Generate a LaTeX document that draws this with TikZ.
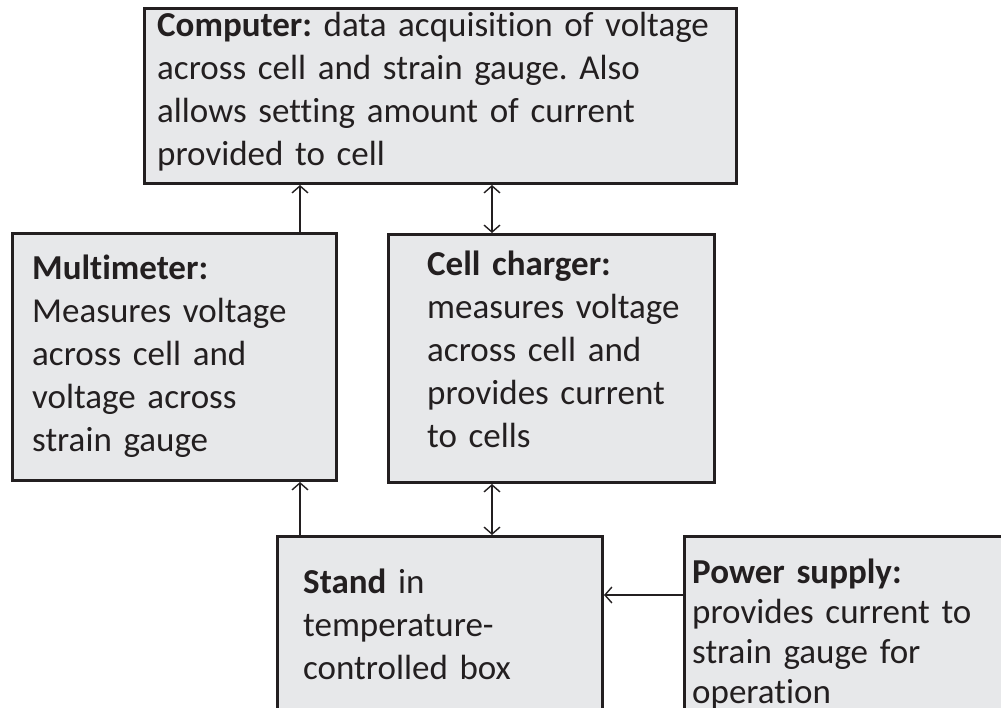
\documentclass[tikz,border=0pt]{standalone}
\usepackage{fontspec}
\setmainfont{Carlito}[Ligatures=CommonOff]
\frenchspacing
\usetikzlibrary{arrows.meta}
\definecolor{boxfill}{RGB}{231,232,234}
\definecolor{ink}{RGB}{35,31,32}
\tikzset{
  box/.style={draw=ink, line width=3pt, fill=boxfill, rectangle, inner sep=0pt, anchor=north west},
  txt/.style={anchor=base west, inner sep=0pt, text width=#1, align=left, text=ink,
    font=\fontsize{35}{43}\selectfont},
  arr/.style={draw=ink, line width=1.4pt, -{Straight Barb[length=7pt,width=16pt,line width=1.4pt]}},
  darr/.style={draw=ink, line width=1.4pt, {Straight Barb[length=7pt,width=16pt,line width=1.4pt]}-{Straight Barb[length=7pt,width=16pt,line width=1.4pt]}}
}
\begin{document}
\begin{tikzpicture}[x=1pt,y=-1pt]
\clip (0,0) rectangle (1001,708);
\fill[white] (0,0) rectangle (1001,708);
% boxes
\node[box, minimum width=592pt, minimum height=175pt] (comp) at (143,7) {};
\node[box, minimum width=324pt, minimum height=247pt] (mm) at (11,232) {};
\node[box, minimum width=326pt, minimum height=248pt] (cc) at (387,233) {};
\node[box, minimum width=325pt, minimum height=220pt] (st) at (276,535) {};
\node[box, minimum width=340pt, minimum height=220pt] (ps) at (683,535) {};
% texts
\node[txt=580pt] (tcomp) at (157,37) {\textbf{Computer:} data acquisition of voltage\\across cell and strain gauge. Also\\allows setting amount of current\\provided to cell};
\node[txt=300pt] (tmm) at (32,280) {\textbf{Multimeter:}\\Measures voltage\\across cell and\\voltage across\\strain gauge};
\node[txt=300pt] (tcc) at (427,276) {\textbf{Cell charger:}\\measures voltage\\across cell and\\provides current\\to cells};
\node[txt=300pt] (tst) at (303,593) {\textbf{Stand} in\\temperature-\\controlled box};
\node[txt=310pt, font=\fontsize{35}{40}\selectfont] (tps) at (692,583) {\textbf{Power supply:}\\provides current to\\strain gauge for\\operation};
% connector x positions
\coordinate (xl) at (300,0);
\coordinate (xr) at (492,0);
\coordinate (yp) at (0,595);
\draw[arr] (mm.north -| xl) -- (comp.south -| xl);
\draw[darr] (cc.north -| xr) -- (comp.south -| xr);
\draw[arr] (st.north -| xl) -- (mm.south -| xl);
\draw[darr] (st.north -| xr) -- (cc.south -| xr);
\draw[arr] (ps.west |- yp) -- (st.east |- yp);
\end{tikzpicture}
\end{document}
